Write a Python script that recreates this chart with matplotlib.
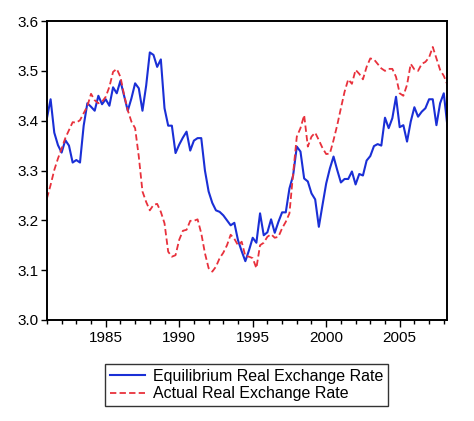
import numpy as np
import matplotlib
matplotlib.use("Agg")
import matplotlib.pyplot as plt
from matplotlib.ticker import MultipleLocator, FormatStrFormatter

# ===== data (quarterly, 1981Q1 - 2008Q2) =====
START_YEAR = 1981
LABEL_EQ = "Equilibrium Real Exchange Rate"
LABEL_ACT = "Actual Real Exchange Rate"

equilibrium = [
    3.405, 3.443, 3.376, 3.351, 3.336, 3.361, 3.350, 3.316, 3.321, 3.316,
    3.390, 3.435, 3.428, 3.420, 3.450, 3.433, 3.443, 3.430, 3.467, 3.455,
    3.480, 3.450, 3.420, 3.445, 3.475, 3.465, 3.420, 3.470, 3.537, 3.532,
    3.508, 3.523, 3.425, 3.390, 3.390, 3.335, 3.352, 3.366, 3.378, 3.340,
    3.360, 3.365, 3.365, 3.300, 3.258, 3.235, 3.220, 3.217, 3.210, 3.200,
    3.190, 3.195, 3.160, 3.138, 3.118, 3.140, 3.165, 3.155, 3.214, 3.170,
    3.176, 3.202, 3.175, 3.197, 3.216, 3.216, 3.264, 3.290, 3.348, 3.338,
    3.284, 3.278, 3.254, 3.242, 3.187, 3.231, 3.274, 3.304, 3.328, 3.301,
    3.276, 3.283, 3.283, 3.298, 3.272, 3.293, 3.290, 3.320, 3.329, 3.349,
    3.353, 3.350, 3.406, 3.385, 3.405, 3.448, 3.387, 3.391, 3.358, 3.398,
    3.427, 3.408, 3.418, 3.425, 3.443, 3.443, 3.391, 3.435, 3.455, 3.388,
]

actual = [
    3.244, 3.271, 3.301, 3.324, 3.344, 3.365, 3.381, 3.397, 3.396, 3.401,
    3.415, 3.429, 3.454, 3.441, 3.435, 3.438, 3.448, 3.468, 3.498, 3.504,
    3.488, 3.452, 3.421, 3.398, 3.385, 3.328, 3.258, 3.237, 3.220, 3.231,
    3.233, 3.217, 3.194, 3.137, 3.127, 3.130, 3.161, 3.179, 3.181, 3.199,
    3.199, 3.202, 3.174, 3.134, 3.104, 3.097, 3.107, 3.124, 3.135, 3.150,
    3.171, 3.163, 3.150, 3.157, 3.128, 3.127, 3.124, 3.104, 3.150, 3.155,
    3.167, 3.172, 3.165, 3.167, 3.184, 3.197, 3.214, 3.294, 3.368, 3.385,
    3.411, 3.348, 3.368, 3.376, 3.361, 3.345, 3.333, 3.334, 3.361, 3.391,
    3.425, 3.458, 3.483, 3.474, 3.502, 3.494, 3.483, 3.508, 3.525, 3.523,
    3.514, 3.505, 3.500, 3.504, 3.504, 3.488, 3.455, 3.450, 3.472, 3.514,
    3.503, 3.500, 3.514, 3.518, 3.527, 3.548, 3.525, 3.502, 3.490, 3.472,
]

x_ticks = [1985, 1990, 1995, 2000, 2005]
y_ticks = [3.0, 3.1, 3.2, 3.3, 3.4, 3.5, 3.6]
# ===========================================


def make_plot():
    plt.rcParams['font.family'] = ['Liberation Sans', 'DejaVu Sans']
    plt.rcParams['font.size'] = 11

    t = START_YEAR + np.arange(len(equilibrium)) / 4.0

    fig = plt.figure(figsize=(4.74, 4.21), dpi=100)
    ax = fig.add_axes([0.099, 0.240, 0.845, 0.710])

    ax.plot(t, equilibrium, color='#1a2fd6', lw=1.5, label=LABEL_EQ)
    ax.plot(t, actual, color='#e8313c', lw=1.3, ls=(0, (3.5, 1.8)), label=LABEL_ACT)

    ax.set_xlim(t[0], t[-1])
    ax.set_ylim(3.0, 3.6)
    ax.set_xticks(x_ticks)
    ax.xaxis.set_minor_locator(MultipleLocator(1))
    ax.set_yticks(y_ticks)
    ax.yaxis.set_major_formatter(FormatStrFormatter('%.1f'))

    for s in ax.spines.values():
        s.set_linewidth(1.4)
    ax.tick_params(axis='x', which='major', direction='out', length=5, width=1, pad=3)
    ax.tick_params(axis='x', which='minor', direction='out', length=3, width=1)
    ax.tick_params(axis='y', direction='out', length=4, width=1, pad=2)

    leg = fig.legend(loc='center', bbox_to_anchor=(0.52, 0.0855), ncol=1,
                     frameon=True, fancybox=False, shadow=False,
                     handlelength=2.2, handletextpad=0.5, borderpad=0.3,
                     labelspacing=0.15, fontsize=11.5)
    leg.get_frame().set_edgecolor('black')
    leg.get_frame().set_linewidth(1.0)

    fig.savefig("out.png", dpi=100)


if __name__ == "__main__":
    make_plot()
